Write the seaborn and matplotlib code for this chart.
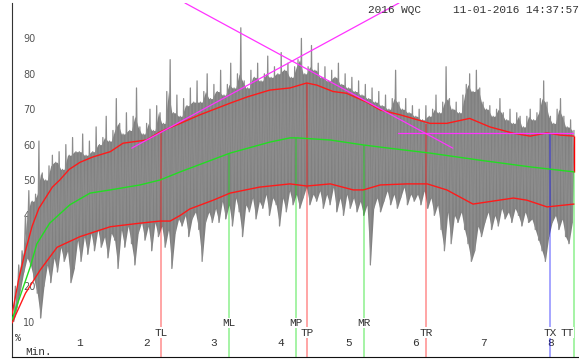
import numpy as np
import pandas as pd
import seaborn as sns
import matplotlib.pyplot as plt

# noisy signal: peaks every 0.05 min starting at 0, troughs in between
peaks = [12, 20, 26, 30, 40, 47, 44, 46, 61, 52,
         50, 54, 57, 55, 58, 53, 60, 57, 62, 58,
         58, 63, 57, 61, 58, 65, 60, 62, 68, 61,
         64, 73, 66, 63, 69, 64, 68, 76, 65, 63,
         66, 70, 64, 71, 69, 66, 75, 84, 69, 74,
         68, 73, 71, 76, 72, 78, 72, 75, 80, 73,
         77, 75, 81, 74, 77, 83, 76, 80, 93, 78,
         76, 81, 79, 83, 78, 80, 85, 79, 82, 80,
         86, 81, 83, 79, 82, 84, 90, 80, 82, 88,
         81, 83, 79, 82, 78, 81, 79, 83, 77, 80,
         76, 79, 75, 78, 74, 77, 73, 76, 72, 75,
         71, 74, 70, 73, 81, 72, 70, 73, 69, 71,
         68, 70, 67, 71, 68, 70, 74, 69, 72, 82,
         73, 70, 72, 69, 74, 77, 80, 75, 81, 76,
         72, 70, 71, 68, 70, 73, 69, 67, 70, 66,
         69, 68, 65, 68, 70, 67, 69, 73, 78, 72,
         68, 66, 70, 73, 68, 65, 67, 64]
troughs = [10, 14, 19, 24, 28, 26, 22, 18, 11, 20,
           26, 21, 28, 24, 31, 27, 30, 21, 25, 33,
           27, 34, 29, 35, 30, 36, 31, 34, 28, 35,
           33, 25, 36, 31, 37, 32, 26, 35, 38, 33,
           37, 30, 38, 34, 37, 31, 36, 25, 35, 39,
           37, 40, 34, 39, 41, 36, 27, 38, 41, 38,
           42, 38, 44, 39, 43, 37, 45, 41, 34, 43,
           41, 45, 39, 44, 42, 46, 40, 45, 43, 37,
           45, 41, 47, 43, 46, 42, 45, 48, 43, 46,
           44, 47, 42, 46, 43, 48, 41, 45, 40, 46,
           42, 45, 41, 44, 40, 43, 26, 42, 45, 41,
           44, 47, 43, 46, 42, 45, 48, 43, 46, 44,
           46, 43, 47, 42, 45, 40, 43, 36, 30, 41,
           32, 40, 38, 41, 36, 32, 27, 30, 37, 34,
           38, 41, 36, 40, 37, 42, 39, 41, 38, 42,
           40, 37, 41, 38, 39, 36, 33, 30, 27, 34,
           38, 40, 36, 39, 34, 32, 38]

upper_t = [0, 0.1, 0.2, 0.3, 0.4, 0.5, 0.6, 0.71, 0.85, 1.01, 1.2, 1.46, 1.65, 2.0, 2.2,
           2.5, 2.79, 3.24, 3.5, 3.83, 4.13, 4.38, 4.53, 4.77, 4.97, 5.27, 5.47, 5.77,
           6.21, 6.46, 6.8, 7.1, 7.45, 7.7, 7.95, 8.14, 8.35]
upper_v = [12, 22, 30, 37, 42, 45, 48, 50, 53, 55, 56.5, 58, 60.4, 61.3, 63.6,
           66, 68.4, 71.7, 73.5, 75.4, 76, 77.4, 76.8, 75, 74.5, 72, 69.8, 68.4,
           66, 66, 67.4, 65, 63.2, 62.4, 63.3, 62.7, 62.4]
lower_t = [0, 0.2, 0.42, 0.67, 1.01, 1.46, 1.9, 2.2, 2.35, 2.5, 2.64, 2.99, 3.24, 3.68,
           4.13, 4.38, 4.73, 5.07, 5.22, 5.47, 5.87, 6.17, 6.46, 6.85, 7.45, 7.65, 7.95, 8.35]
lower_v = [9.6, 18, 24.6, 31, 34, 36.8, 37.8, 38.4, 38.4, 40, 41.8, 44.3, 46.3, 48,
           48.9, 48.3, 48.9, 47.2, 47.2, 48.6, 48.9, 48.9, 47.2, 43.2, 44.9, 44.3, 42.4, 43.2]
mid_t = [0, 0.27, 0.37, 0.56, 0.86, 1.16, 1.46, 1.9, 2.2, 2.5, 3.24, 3.83, 4.13, 4.23,
         4.73, 5.22, 5.47, 6.21, 6.95, 7.7, 8.35]
mid_v = [10.5, 25.4, 32, 37.8, 43, 46.3, 47.2, 48.6, 50, 52.3, 57.6, 60.7, 61.9, 61.9,
         61.3, 59.9, 59.3, 57.6, 55.6, 53.7, 52.3]

# magenta guide lines
guide_up_t, guide_up_v = [1.78, 5.75], [59, 100]
guide_down_t, guide_down_v = [2.57, 6.55], [100, 59]
guide_flat_t, guide_flat_v = [5.74, 8.34], [63.3, 63.3]

# event markers
marker_names = ['TL', 'ML', 'MP', 'TP', 'MR', 'TR', 'TX', 'TT']
marker_t = [2.21, 3.22, 4.22, 4.38, 5.23, 6.15, 8.0, 8.35]
marker_top = [63.6, 57.6, 61.9, 77.4, 59.9, 65.8, 63.3, 52.3]
marker_color = ['#ff0000', '#00dd00', '#00dd00', '#ff0000', '#00dd00', '#ff0000', '#0000ff', '#00dd00']
marker_row = ['low', 'high', 'high', 'low', 'high', 'low', 'low', 'low']

y_ticks = [10, 20, 30, 40, 50, 60, 70, 80, 90]
x_ticks = [1, 2, 3, 4, 5, 6, 7, 8]

sns.set_style('white')
mono = 'Liberation Mono'
txt = '#333333'

fig = plt.figure(figsize=(5.79, 3.6), dpi=100)
ax = fig.add_axes([12 / 579, 3 / 360, 567 / 579, 354 / 360])

peak_t = np.arange(len(peaks)) * 0.05
trough_t = 0.025 + np.arange(len(troughs)) * 0.05
sig = pd.concat([
    pd.DataFrame({'t': peak_t, 'v': peaks}),
    pd.DataFrame({'t': trough_t, 'v': troughs}),
]).sort_values('t')

# solid core of the trace: from each trough up to the lower of its two neighbouring peaks
pk = np.array(peaks, dtype=float)
core_top = np.minimum(pk[:-1], pk[1:])
ax.fill_between(trough_t, troughs, core_top, color='#808080', lw=0, zorder=1)
sns.lineplot(data=sig, x='t', y='v', ax=ax, color='#8c8c8c', lw=0.9,
             estimator=None, sort=True, zorder=1)

for name, t, top, col in zip(marker_names, marker_t, marker_top, marker_color):
    ax.vlines(t, 0, top, colors=col, lw=1.1, alpha=0.45, zorder=2)
# red closing segment at the right edge
ax.vlines(marker_t[-1], marker_top[-1], upper_v[-1], colors='#ff0000', lw=1.0, zorder=3)

sns.lineplot(x=upper_t, y=upper_v, ax=ax, color='#ff1a1a', lw=1.0, zorder=4)
sns.lineplot(x=lower_t, y=lower_v, ax=ax, color='#ff1a1a', lw=1.0, zorder=4)
sns.lineplot(x=mid_t, y=mid_v, ax=ax, color='#22dd22', lw=1.0, zorder=4)
for gt, gv in [(guide_up_t, guide_up_v), (guide_down_t, guide_down_v), (guide_flat_t, guide_flat_v)]:
    sns.lineplot(x=gt, y=gv, ax=ax, color='#ff33ff', lw=0.9, zorder=5)

for name, t, row in zip(marker_names, marker_t, marker_row):
    y = 9.6 if row == 'high' else 6.8
    ha = 'center'
    if name == 'TT':
        ha = 'right'
        t = t - 0.01
    ax.text(t, y, name, ha=ha, va='center', fontsize=8, family=mono, color=txt,
            bbox=dict(facecolor='white', edgecolor='none', pad=0.3), zorder=6)

ax.set_xlim(0, 567 / 67.3)
ax.set_ylim(0, 100)
ax.set_xlabel('')
ax.set_ylabel('')
ax.set_yticks(y_ticks)
ax.set_yticklabels([str(v) for v in y_ticks], fontsize=7, color='#555555', ha='left')
ax.tick_params(axis='y', direction='in', length=5.8, width=1, color='#333333', pad=-8)
ax.set_xticks(x_ticks)
ax.set_xticklabels([str(v) for v in x_ticks], fontsize=8, family=mono, color=txt)
ax.tick_params(axis='x', direction='in', length=5, width=1, color='#333333', pad=-14)

for s in ['top', 'right']:
    ax.spines[s].set_visible(False)
ax.spines['left'].set_color('#333333')
ax.spines['bottom'].set_color('#111111')

ax.text(0.04, 5.4, '%', fontsize=7, family=mono, color=txt, ha='left', va='center')
ax.text(0.19, 1.5, 'Min.', fontsize=8, family=mono, color=txt, ha='left', va='center')
fig.text(368 / 579, 1 - 10 / 360, '2016 WQC', fontsize=8, family=mono, color=txt,
         ha='left', va='center')
fig.text(453 / 579, 1 - 10 / 360, '11-01-2016 14:37:57', fontsize=8, family=mono,
         color=txt, ha='left', va='center')

fig.savefig('out.png', dpi=100)
